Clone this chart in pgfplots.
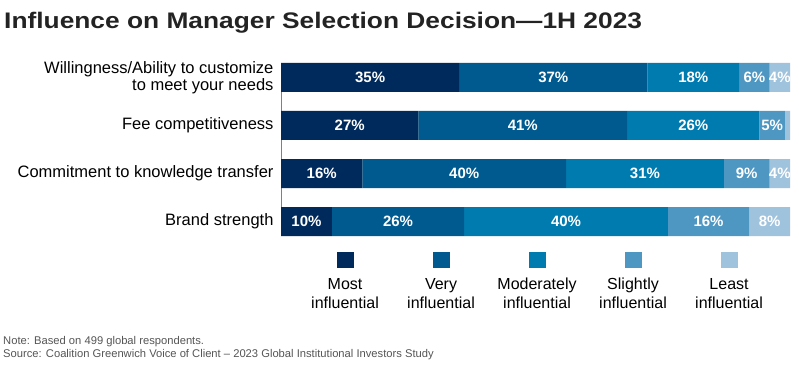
\documentclass[border=0pt]{standalone}
\usepackage{fontspec}
\setmainfont{Liberation Sans}
\newfontfamily\titlefont[FakeStretch=1.17]{Liberation Sans}
\usepackage{pgfplots}
\pgfplotsset{compat=1.18}
\definecolor{cMost}{RGB}{0,42,92}
\definecolor{cVery}{RGB}{0,90,143}
\definecolor{cMod}{RGB}{0,123,176}
\definecolor{cSli}{RGB}{78,151,195}
\definecolor{cLea}{RGB}{160,195,221}
\definecolor{titlegray}{RGB}{35,35,35}
\definecolor{notegray}{RGB}{85,85,85}
\pgfplotsset{
  common/.style={
    at={(281pt,131pt)}, anchor=south west,
    scale only axis, width=509pt, height=173pt,
    xmin=0, xmax=100, ymin=-0.302, ymax=3.302, y dir=reverse,
  },
  seglabel/.style={draw=none, mark=none, nodes near coords, point meta=explicit symbolic,
    nodes near coords align=center,
    nodes near coords style={anchor=center, text=white, font=\fontsize{15}{15}\selectfont\bfseries}},
}
\begin{document}
\begin{tikzpicture}
\useasboundingbox (0,0) rectangle (799pt,367pt);
\node[anchor=base west, inner sep=0pt, font=\titlefont\fontsize{22.5}{26}\selectfont\bfseries, text=titlegray] at (4pt,338pt) {Influence on Manager Selection Decision—1H 2023};
\node[anchor=base west, inner sep=0pt, font=\fontsize{11.2}{13}\selectfont, text=notegray] at (3pt,23pt) {Note: Based on 499 global respondents.};
\node[anchor=base west, inner sep=0pt, font=\fontsize{11.2}{13}\selectfont, text=notegray] at (3pt,10pt) {Source: Coalition Greenwich Voice of Client – 2023 Global Institutional Investors Study};
\begin{axis}[
  common,
  xbar stacked, bar width=29pt,
  axis x line=none, axis y line*=left,
  y axis line style={draw=gray, line width=1pt, -},
  ytick={0,1,2,3},
  yticklabels={{Willingness/Ability to customize\\to meet your needs}, Fee competitiveness, Commitment to knowledge transfer, Brand strength},
  yticklabel style={align=right, font=\fontsize{16.5}{17}\selectfont, text=black, xshift=-4pt},
  major tick length=0pt,
  legend image code/.code={},
  legend columns=5,
  legend style={at={(axis description cs:0.503,-0.0925)}, anchor=north, draw=none, fill=none, inner sep=0pt, outer sep=0pt, nodes={inner sep=0pt}, font=\fontsize{16}{19}\selectfont, /tikz/every even column/.append style={column sep=0pt}},
]
\addplot[fill=cMost, draw=none] coordinates {(35,0) (27,1) (16,2) (10,3)};
\addlegendentry{\parbox{96pt}{\centering\textcolor{cMost}{\rule{17pt}{16pt}}\\[2pt]Most\\influential}}
\addplot[fill=cVery, draw=none] coordinates {(37,0) (41,1) (40,2) (26,3)};
\addlegendentry{\parbox{96pt}{\centering\textcolor{cVery}{\rule{17pt}{16pt}}\\[2pt]Very\\influential}}
\addplot[fill=cMod, draw=none] coordinates {(18,0) (26,1) (31,2) (40,3)};
\addlegendentry{\parbox{96pt}{\centering\textcolor{cMod}{\rule{17pt}{16pt}}\\[2pt]Moderately\\influential}}
\addplot[fill=cSli, draw=none] coordinates {(6,0) (5,1) (9,2) (16,3)};
\addlegendentry{\parbox{96pt}{\centering\textcolor{cSli}{\rule{17pt}{16pt}}\\[2pt]Slightly\\influential}}
\addplot[fill=cLea, draw=none] coordinates {(4,0) (1,1) (4,2) (8,3)};
\addlegendentry{\parbox{96pt}{\centering\textcolor{cLea}{\rule{17pt}{16pt}}\\[2pt]Least\\influential}}
\end{axis}
\begin{axis}[common, hide axis]
\addplot[seglabel] coordinates {(17.5,0) [35\%] (13.5,1) [27\%] (8,2) [16\%] (5,3) [10\%]};
\addplot[seglabel] coordinates {(53.5,0) [37\%] (47.5,1) [41\%] (36,2) [40\%] (23,3) [26\%]};
\addplot[seglabel] coordinates {(81,0) [18\%] (81,1) [26\%] (71.5,2) [31\%] (56,3) [40\%]};
\addplot[seglabel] coordinates {(93,0) [6\%] (96.5,1) [5\%] (91.5,2) [9\%] (84,3) [16\%]};
\addplot[seglabel] coordinates {(98,0) [4\%] (98,2) [4\%] (96,3) [8\%]};
\end{axis}
\end{tikzpicture}
\end{document}
